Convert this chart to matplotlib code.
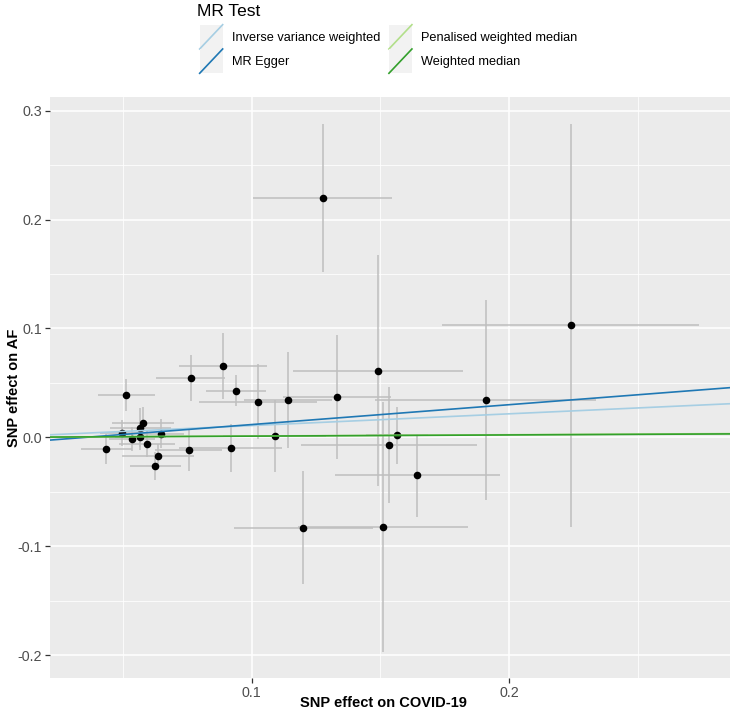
import matplotlib
matplotlib.use("Agg")
import matplotlib.pyplot as plt
from matplotlib.legend_handler import HandlerBase
from matplotlib.patches import Rectangle
from matplotlib.lines import Line2D
from matplotlib.ticker import FixedLocator, FixedFormatter

plt.rcParams["font.family"] = ["Liberation Sans", "DejaVu Sans"]

# ---- data ----
snp_x = [0.1276, 0.2238, 0.1908, 0.1490, 0.1331, 0.1140, 0.1025, 0.0939, 0.0888, 0.0764,
         0.0514, 0.0578, 0.0568, 0.0495, 0.0647, 0.0535, 0.0568, 0.0436, 0.0593, 0.0637,
         0.0626, 0.0755, 0.0918, 0.1090, 0.1533, 0.1563, 0.1643, 0.1200, 0.1509]
snp_y = [0.2200, 0.1030, 0.0344, 0.0613, 0.0374, 0.0344, 0.0329, 0.0429, 0.0656, 0.0543,
         0.0387, 0.0130, 0.0090, 0.0039, 0.0035, -0.0017, 0.0007, -0.0108, -0.0060, -0.0170,
         -0.0264, -0.0112, -0.0096, 0.0014, -0.0072, 0.0017, -0.0347, -0.0828, -0.0821]
se_x = [0.027, 0.050, 0.043, 0.033, 0.021, 0.017, 0.023, 0.0115, 0.0172, 0.0134,
        0.011, 0.012, 0.012, 0.0085, 0.009, 0.009, 0.010, 0.010, 0.011, 0.014,
        0.010, 0.013, 0.020, 0.020, 0.034, 0.012, 0.032, 0.027, 0.033]
se_y = [0.068, 0.185, 0.092, 0.106, 0.057, 0.044, 0.034, 0.0145, 0.030, 0.021,
        0.0145, 0.015, 0.018, 0.012, 0.013, 0.011, 0.012, 0.014, 0.012, 0.011,
        0.013, 0.020, 0.022, 0.033, 0.053, 0.026, 0.038, 0.052, 0.115]

methods = ["Inverse variance weighted", "MR Egger", "Penalised weighted median", "Weighted median"]
slopes = [0.108, 0.1824, 0.012, 0.011]
intercepts = [0.0, -0.0065, 0.0, 0.0]
method_colors = ["#A6CEE3", "#1F78B4", "#B2DF8A", "#33A02C"]

x_ticks = [0.1, 0.2]
x_tick_labels = ["0.1", "0.2"]
x_minor = [0.05, 0.15, 0.25]
y_ticks = [-0.2, -0.1, 0.0, 0.1, 0.2, 0.3]
y_tick_labels = ["-0.2", "-0.1", "0.0", "0.1", "0.2", "0.3"]
y_minor = [-0.15, -0.05, 0.05, 0.15, 0.25]

# ---- figure ----
W, H = 730, 717
fig = plt.figure(figsize=(W / 100, H / 100), dpi=100)
ax = fig.add_axes([50 / W, (H - 678) / H, 680 / W, (678 - 96.7) / H])
ax.set_facecolor("#EBEBEB")
for s in ax.spines.values():
    s.set_visible(False)

ax.set_xlim(0.0217, 0.2857)
ax.set_ylim(-0.221, 0.3128)
ax.xaxis.set_major_locator(FixedLocator(x_ticks))
ax.xaxis.set_major_formatter(FixedFormatter(x_tick_labels))
ax.xaxis.set_minor_locator(FixedLocator(x_minor))
ax.yaxis.set_major_locator(FixedLocator(y_ticks))
ax.yaxis.set_major_formatter(FixedFormatter(y_tick_labels))
ax.yaxis.set_minor_locator(FixedLocator(y_minor))
ax.set_axisbelow(True)
ax.grid(which="major", color="white", lw=1.1)
ax.grid(which="minor", color="white", lw=0.55)
ax.tick_params(which="major", length=3.5, width=0.9, color="#333333",
               labelcolor="#4D4D4D", labelsize=10.3, pad=2)
ax.tick_params(which="minor", length=0)

ax.errorbar(snp_x, snp_y, xerr=se_x, yerr=se_y, fmt="none", ecolor="#BEBEBE",
            elinewidth=1.1, capsize=0, zorder=2)
ax.scatter(snp_x, snp_y, s=30, color="black", zorder=3, linewidths=0)

handles = []
for name, m, b, c in zip(methods, slopes, intercepts, method_colors):
    h = ax.axline((0, b), slope=m, color=c, lw=1.2, label=name, zorder=4)
    handles.append(h)

ax.set_xlabel("SNP effect on COVID-19", fontweight="bold", fontsize=10.5, color="black")
ax.set_ylabel("SNP effect on AF", fontweight="bold", fontsize=10.5, color="black")
ax.xaxis.set_label_coords(0.49, (678 - 696) / (678 - 96.7))
ax.yaxis.set_label_coords((21 - 50) / 680, 0.5)


class KeyHandler(HandlerBase):
    def create_artists(self, legend, orig_handle, xdescent, ydescent, width, height, fontsize, trans):
        r = Rectangle((-xdescent, -ydescent), width, height, facecolor="#F2F2F2",
                      edgecolor="none", transform=trans)
        ln = Line2D([-xdescent, -xdescent + width], [-ydescent, -ydescent + height],
                    color=orig_handle.get_color(), lw=orig_handle.get_linewidth(), transform=trans)
        return [r, ln]


fig.text(197 / W, 1 - 4 / H, "MR Test", fontsize=12.5, ha="left", va="top", color="black")
leg = fig.legend(handles=handles, labels=methods, ncol=2, loc="upper left",
                 bbox_to_anchor=(192 / W, 1 - 17 / H), frameon=False, fontsize=9.2,
                 handlelength=1.8, handleheight=2.55, handletextpad=0.7,
                 columnspacing=0.7, labelspacing=0.0, borderpad=0.1,
                 handler_map={h: KeyHandler() for h in handles})

fig.savefig("out.png", dpi=100)
